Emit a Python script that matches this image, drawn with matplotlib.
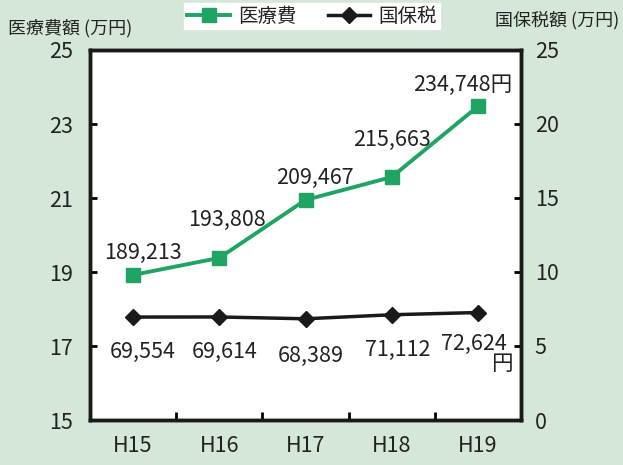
import matplotlib.pyplot as plt
from matplotlib.lines import Line2D

plt.rcParams['font.family'] = ['Noto Sans CJK JP', 'DejaVu Sans']

years = ['H15', 'H16', 'H17', 'H18', 'H19']
iryouhi = [189213, 193808, 209467, 215663, 234748]   # 円
kokuho = [69554, 69614, 68389, 71112, 72624]          # 円

bg = '#d5e7d8'
green = '#1fa463'
black = '#1a1a1a'

fig = plt.figure(figsize=(6.23, 4.65), dpi=100, facecolor=bg)
ax = fig.add_axes([90 / 623, 45 / 465, 431 / 623, 370 / 465])
ax2 = ax.twinx()

x = list(range(len(years)))
ax.plot(x, [v / 10000 for v in iryouhi], color=green, lw=2.8, marker='s', ms=10, zorder=3)
ax2.plot(x, [v / 10000 for v in kokuho], color=black, lw=2.5, marker='D', ms=8, zorder=3)

ax.set_xlim(-0.5, 4.5)
ax.set_ylim(15, 25)
ax.set_yticks(range(15, 26, 2))
ax2.set_ylim(0, 25)
ax2.set_yticks(range(0, 26, 5))
ax.set_xticks(x)
ax.set_xticklabels(years)
ax.set_xticks([0.5, 1.5, 2.5, 3.5], minor=True)
ax.tick_params(axis='x', which='major', length=0, pad=11, labelsize=15.5, labelcolor='#222222')
ax.tick_params(axis='x', which='minor', direction='in', length=6, width=2)
ax.tick_params(axis='y', direction='in', length=5, width=2, labelsize=15.5, pad=12, labelcolor='#222222')
ax2.tick_params(axis='y', direction='in', length=5, width=2, labelsize=15.5, pad=10, labelcolor='#222222')
for a in (ax, ax2):
    for s in a.spines.values():
        s.set_linewidth(2.5)
        s.set_color(black)

# data labels
fs = 15.5
tc = '#222222'
green_off = [(10, 22), (8, 38), (9, 22), (0, 37), (-15, 21)]
for i, v in enumerate(iryouhi):
    t = f'{v:,}' + ('円' if i == len(iryouhi) - 1 else '')
    ax.annotate(t, (i, v / 10000), xytext=green_off[i], textcoords='offset pixels',
                ha='center', va='center', fontsize=fs, color=tc)
black_off = [(10, -35), (5, -35), (5, -37), (6, -35)]
for i, v in enumerate(kokuho[:-1]):
    ax2.annotate(f'{v:,}', (i, v / 10000), xytext=black_off[i], textcoords='offset pixels',
                 ha='center', va='center', fontsize=fs, color=tc)
ax2.annotate(f'{kokuho[-1]:,}', (4, kokuho[-1] / 10000), xytext=(-4, -31),
             textcoords='offset pixels', ha='center', va='center', fontsize=fs, color=tc)
ax2.annotate('円', (4, kokuho[-1] / 10000), xytext=(24, -51),
             textcoords='offset pixels', ha='center', va='center', fontsize=fs, color=tc)

fig.text(8 / 623, 1 - 28 / 465, '医療費額 (万円)', fontsize=13, ha='left', va='center', color=tc)
fig.text(619 / 623, 1 - 20 / 465, '国保税額 (万円)', fontsize=13, ha='right', va='center', color=tc)

handles = [Line2D([], [], color=green, lw=2.8, marker='s', ms=10),
           Line2D([], [], color=black, lw=2.5, marker='D', ms=8)]
leg = fig.legend(handles, ['医療費', '国保税'], loc='center', ncol=2,
                 bbox_to_anchor=(312 / 623, 1 - 16 / 465), fontsize=14, frameon=True,
                 fancybox=False, edgecolor='white', facecolor='white', framealpha=1,
                 handlelength=2.2, handletextpad=0.4, columnspacing=1.6, borderpad=0.15,
                 borderaxespad=0)
for t in leg.get_texts():
    t.set_color(tc)

fig.savefig('out.png', dpi=100, facecolor=bg)
